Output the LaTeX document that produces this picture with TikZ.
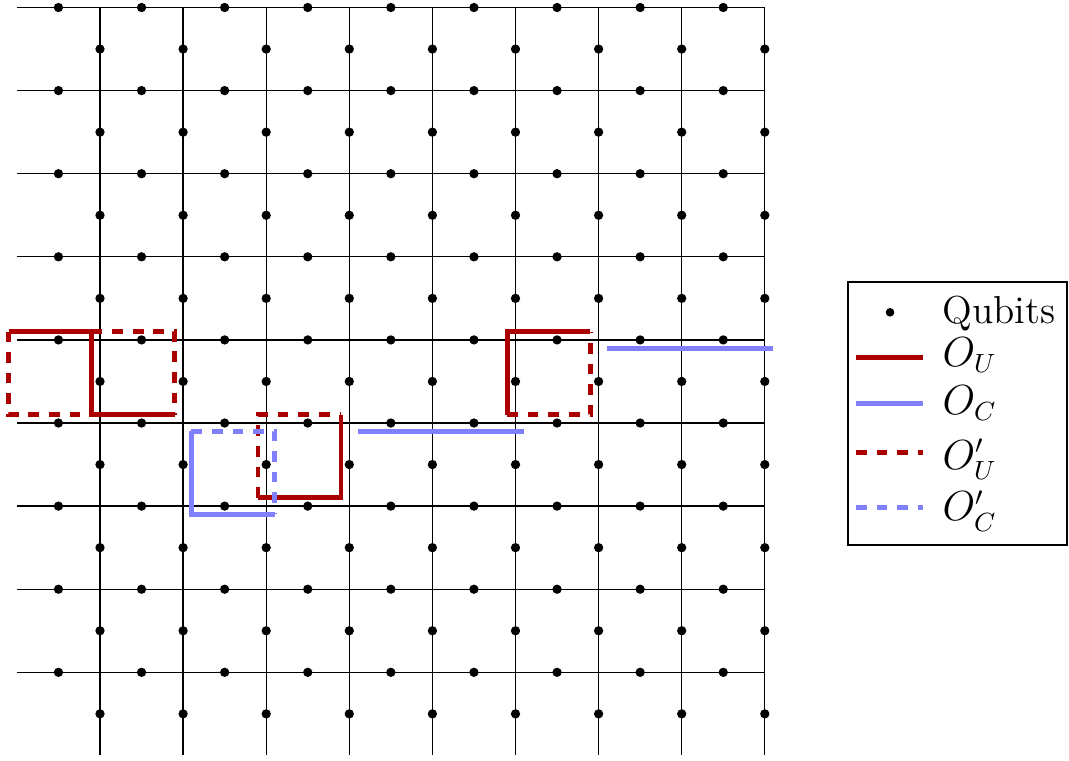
\documentclass[tikz,border=0pt]{standalone}
\definecolor{ou}{RGB}{170,0,0}
\definecolor{oc}{RGB}{128,128,255}
\begin{document}
\begin{tikzpicture}[x=1cm,y=1cm,
  gridline/.style={line width=0.45pt},
  ouline/.style={draw=ou,line width=1.6pt},
  ocline/.style={draw=oc,line width=1.6pt},
  dashline/.style={dash pattern=on 3.65pt off 3.4pt},
  legtext/.style={anchor=base west,inner sep=0pt,font=\fontsize{13.35}{16}\selectfont}]
\useasboundingbox (-1.2034,0.0903) rectangle (11.6606,-9.0554);
% grid
\foreach \j in {0,...,8} \draw[gridline] (-1,-\j) -- (8,-\j);
\foreach \k in {0,...,8} \draw[gridline] (\k,0) -- (\k,-9);
% qubits
\foreach \j in {0,...,8} \foreach \i in {0,...,8} \fill (\i-0.5,-\j) circle (0.056);
\foreach \k in {0,...,8} \foreach \j in {0,...,8} \fill (\k,-\j-0.5) circle (0.056);
% O_U and O'_U
\draw[ouline] (-1.1,-3.9) -- (-0.1,-3.9) -- (-0.1,-4.9) -- (0.9,-4.9);
\draw[ouline,dashline] (-1.1,-3.9) -- (-1.1,-4.9) -- (-0.1,-4.9);
\draw[ouline,dashline] (-0.1,-3.9) -- (0.9,-3.9) -- (0.9,-4.9);
\draw[ouline] (2.9,-4.9) -- (2.9,-5.9) -- (1.9,-5.9);
\draw[ouline,dashline] (1.9,-5.9) -- (1.9,-4.9) -- (2.9,-4.9);
\draw[ouline] (5.9,-3.9) -- (4.9,-3.9) -- (4.9,-4.9);
\draw[ouline,dashline] (4.9,-4.9) -- (5.9,-4.9) -- (5.9,-3.9);
% O_C and O'_C
\draw[ocline] (1.1,-5.1) -- (1.1,-6.1) -- (2.1,-6.1);
\draw[ocline,dashline] (1.1,-5.1) -- (2.1,-5.1) -- (2.1,-6.1);
\draw[ocline] (3.1,-5.1) -- (5.1,-5.1);
\draw[ocline] (6.1,-4.1) -- (8.1,-4.1);
% legend
\draw[line width=0.8pt] (9.005,-3.300) rectangle (11.64,-6.468);
\fill (9.507,-3.668) circle (0.052);
\node[legtext] (lq) at (10.132,-3.800) {Qubits};
\draw[ouline] (9.097,-4.214) -- (9.900,-4.214);
\node[legtext] (lou) at (10.132,-4.314) {$O_U$};
\draw[ocline] (9.097,-4.763) -- (9.900,-4.763);
\node[legtext] (loc) at (10.132,-4.892) {$O_C$};
\draw[ouline,dashline] (9.097,-5.357) -- (9.900,-5.357);
\node[legtext] (loup) at (10.132,-5.554) {$O'_U$};
\draw[ocline,dashline] (9.097,-6.014) -- (9.900,-6.014);
\node[legtext] (locp) at (10.132,-6.179) {$O'_C$};
\end{tikzpicture}
\end{document}
